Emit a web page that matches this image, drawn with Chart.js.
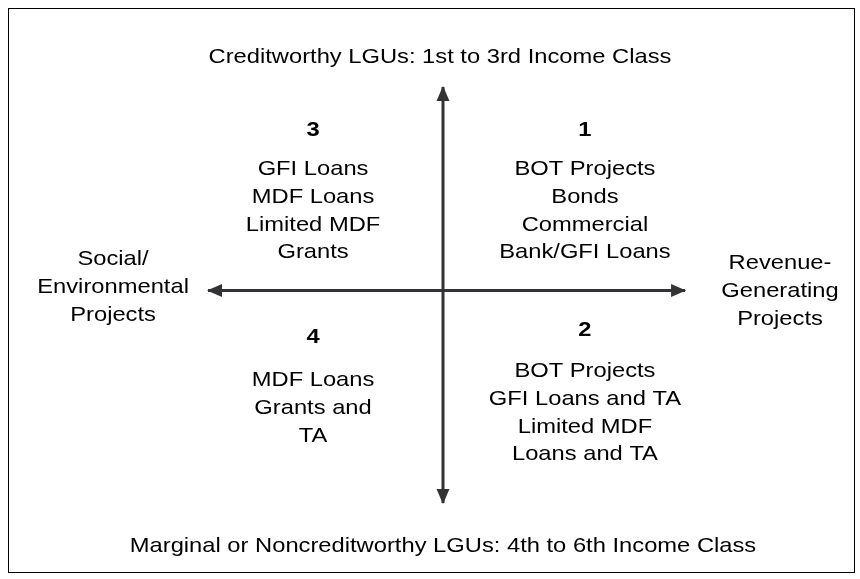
<!DOCTYPE html>
<html>
<head>
<meta charset="utf-8">
<script src="https://cdn.jsdelivr.net/npm/chart.js@4/dist/chart.umd.min.js"></script>
<style>
  html, body { margin: 0; padding: 0; background: #fff; }
  #wrap { position: relative; width: 860px; height: 579px; }
</style>
</head>
<body>
<div id="wrap"><canvas id="quadChart"></canvas></div>
<script>
// AXIS TITLES
const topTitle = "Creditworthy LGUs: 1st to 3rd Income Class";
const bottomTitle = "Marginal or Noncreditworthy LGUs: 4th to 6th Income Class";
const leftTitle = ["Social/", "Environmental", "Projects"];
const rightTitle = ["Revenue-", "Generating", "Projects"];

// QUADRANTS (1 = top right, 2 = bottom right, 3 = top left, 4 = bottom left)
const quadNums = ["1", "2", "3", "4"];
const quadItems = [
  ["BOT Projects", "Bonds", "Commercial", "Bank/GFI Loans"],
  ["BOT Projects", "GFI Loans and TA", "Limited MDF", "Loans and TA"],
  ["GFI Loans", "MDF Loans", "Limited MDF", "Grants"],
  ["MDF Loans", "Grants and", "TA"]
];

// ARROW ENDS (axis units, crossing at 0,0)
const hArrowX = [-1, 1.03];
const hArrowY = [0, 0];
const vArrowX = [0, 0];
const vArrowY = [-1.044, 1];

const FONT = '"Liberation Sans", Arial, sans-serif';
const STRETCH = 1.13;
const LINE_H = 27.8;

function pts(xs, ys) {
  return xs.map((x, i) => ({ x: x, y: ys[i] }));
}

// ARROWHEADS
const arrowHeads = {
  id: "arrowHeads",
  afterDatasetsDraw(chart) {
    const ctx = chart.ctx;
    chart.data.datasets.forEach((ds, i) => {
      const p = chart.getDatasetMeta(i).data;
      [[p[0], p[1]], [p[p.length - 1], p[p.length - 2]]].forEach(([tip, from]) => {
        const a = Math.atan2(tip.y - from.y, tip.x - from.x);
        const len = 14, half = 6.5;
        ctx.save();
        ctx.translate(tip.x, tip.y);
        ctx.rotate(a);
        ctx.fillStyle = ds.borderColor;
        ctx.beginPath();
        ctx.moveTo(1, 0);
        ctx.lineTo(-len, -half);
        ctx.lineTo(-len, half);
        ctx.closePath();
        ctx.fill();
        ctx.restore();
      });
    });
  }
};

// TEXT BLOCKS + FRAME
const labelsPlugin = {
  id: "labelsPlugin",
  afterDraw(chart) {
    const ctx = chart.ctx;
    const xs = chart.scales.x, ys = chart.scales.y;

    function textAt(t, x, y, bold) {
      ctx.save();
      ctx.font = (bold ? "bold " : "") + "21px " + FONT;
      ctx.translate(x, y);
      ctx.scale(STRETCH, 1);
      ctx.fillText(t, 0, 0);
      ctx.restore();
    }
    function block(lines, dx, dy) {
      const x = xs.getPixelForValue(dx), y = ys.getPixelForValue(dy);
      lines.forEach((t, i) => textAt(t, x, y + i * LINE_H, false));
    }

    ctx.save();
    ctx.fillStyle = "#000";
    ctx.textAlign = "center";
    ctx.textBaseline = "alphabetic";

    block([topTitle], -0.013, 1.12);
    block([bottomTitle], 0, -1.285);
    block(leftTitle, -1.404, 0.125);
    block(rightTitle, 1.434, 0.106);

    const qPos = [[0.604, 0.757, 38.5], [0.604, -0.224, 41], [-0.553, 0.757, 38.5], [-0.553, -0.258, 43]];
    quadNums.forEach((n, i) => {
      const x = xs.getPixelForValue(qPos[i][0]), y = ys.getPixelForValue(qPos[i][1]);
      textAt(n, x, y, true);
      quadItems[i].forEach((t, j) => textAt(t, x, y + qPos[i][2] + j * LINE_H, false));
    });

    ctx.strokeStyle = "#000";
    ctx.lineWidth = 1;
    ctx.strokeRect(8.5, 8.5, 846, 564);
    ctx.restore();
  }
};

new Chart(document.getElementById("quadChart"), {
  type: "scatter",
  data: {
    datasets: [
      { data: pts(hArrowX, hArrowY), showLine: true, borderColor: "#333336", borderWidth: 3, pointRadius: 0 },
      { data: pts(vArrowX, vArrowY), showLine: true, borderColor: "#333336", borderWidth: 3, pointRadius: 0 }
    ]
  },
  options: {
    responsive: true,
    maintainAspectRatio: false,
    animation: false,
    layout: { padding: 0 },
    plugins: { legend: { display: false }, tooltip: { enabled: false } },
    scales: {
      x: { type: "linear", min: -443 / 235, max: 417 / 235, display: false },
      y: { type: "linear", min: -288.5 / 203.5, max: 290.5 / 203.5, display: false }
    }
  },
  plugins: [arrowHeads, labelsPlugin]
});
</script>
</body>
</html>
